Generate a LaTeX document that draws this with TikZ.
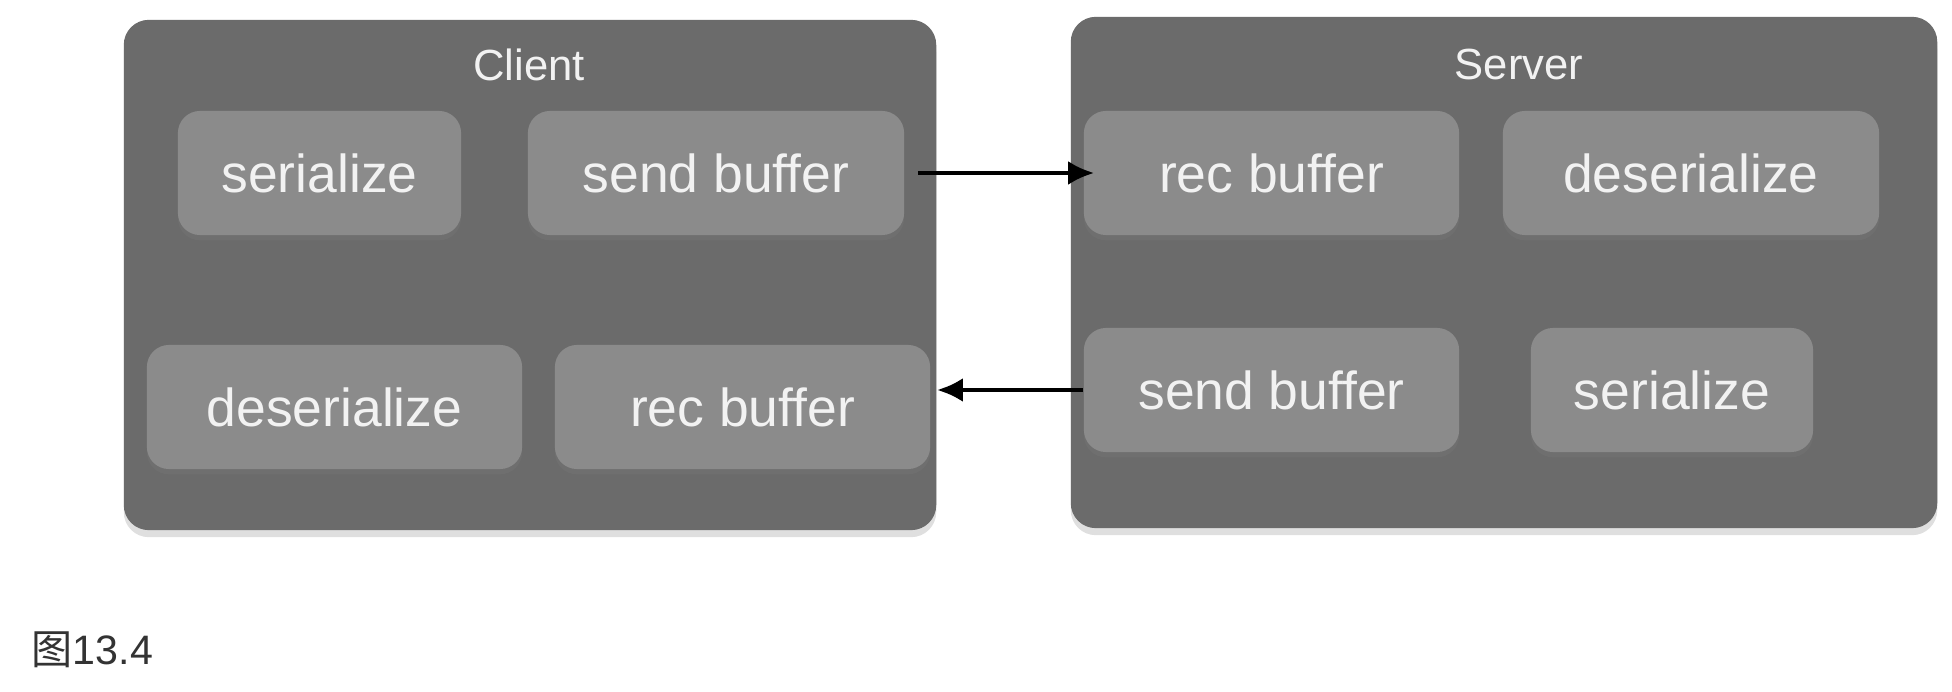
\documentclass[tikz,border=0pt]{standalone}
\usepackage{fontspec}
\setmainfont{Liberation Sans}
\newfontfamily\cjk{Noto Sans CJK SC}
\usepackage{tikz}
\usetikzlibrary{arrows.meta,shadows}
\definecolor{panelgray}{RGB}{107,107,107}
\definecolor{cellgray}{RGB}{139,139,139}
\definecolor{labelwhite}{RGB}{242,242,242}

\begin{document}
\begin{tikzpicture}[x=0.01cm,y=-0.01cm,
    panel/.style={fill=panelgray, rounded corners=0.25cm, inner sep=0pt,
      drop shadow={opacity=0.25, shadow xshift=0pt, shadow yshift=-2pt}},
    cell/.style={fill=cellgray, rounded corners=0.22cm, inner sep=0pt,
      minimum height=1.24cm, text=labelwhite,
      font=\fontsize{15.2pt}{18pt}\selectfont,
      drop shadow={opacity=0.2, shadow xshift=0pt, shadow yshift=-1.5pt}},
    title/.style={text=labelwhite, font=\fontsize{12.4pt}{15pt}\selectfont},
    link/.style={line width=0.045cm, -{Latex[length=0.26cm,width=0.24cm]}}]
    \useasboundingbox (0,0) rectangle (1952,692);

    % Client
    \node[panel, minimum width=8.12cm, minimum height=5.1cm] (client) at (530,275) {};
    \node[title] (clientname) at (529,65) {Client};
    \node[cell, minimum width=2.83cm] (cser) at (319.5,173) {serialize};
    \node[cell, minimum width=3.76cm] (csend) at (716,173) {send buffer};
    \node[cell, minimum width=3.75cm] (cdes) at (334.5,407) {deserialize};
    \node[cell, minimum width=3.75cm] (crec) at (742.5,407) {rec buffer};

    % Server
    \node[panel, minimum width=8.66cm, minimum height=5.11cm] (server) at (1504,272.5) {};
    \node[title] (servername) at (1519,65) {Server};
    \node[cell, minimum width=3.75cm] (srec) at (1271.5,173) {rec buffer};
    \node[cell, minimum width=3.76cm] (sdes) at (1691,173) {deserialize};
    \node[cell, minimum width=3.75cm] (ssend) at (1271.5,390) {send buffer};
    \node[cell, minimum width=2.82cm] (sser) at (1672,390) {serialize};

    % messages
    \draw[link, shorten <=0.13cm, shorten >=-0.11cm] (csend.east) -- (srec.west);
    \draw[link] (ssend.west) -- (ssend.west -| client.east);

    \node[anchor=west, inner sep=0pt, text=black!80, font=\fontsize{11.7pt}{14pt}\selectfont] (caption) at (31,650) {{\cjk 图}13.4};
\end{tikzpicture}
\end{document}
